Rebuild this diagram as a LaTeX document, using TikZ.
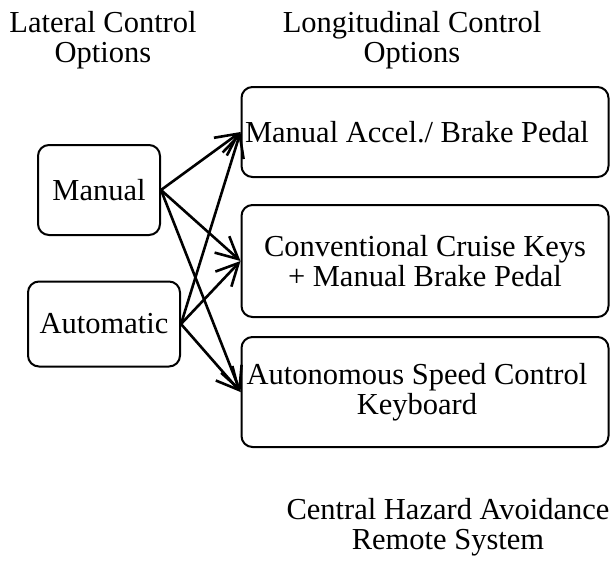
\documentclass[tikz,border=0pt]{standalone}
\usepackage{fontspec}
\setmainfont{Liberation Serif}
\usetikzlibrary{arrows.meta}
\begin{document}
\begin{tikzpicture}[x=1pt,y=-1pt,
  box/.style={draw, line width=2pt, rounded corners=11pt, inner sep=0pt, align=center},
  lbl/.style={align=center, inner sep=0pt},
  link/.style={line width=2.6pt, -{Straight Barb[length=22pt,width=22pt,line width=2.6pt]}},
  every node/.style={font=\fontsize{30.5}{30}\selectfont}]
\useasboundingbox (0,0) rectangle (614,568);
\node[lbl] (lat) at (103,40) {Lateral Control\\Options};
\node[lbl] (lon) at (412,40) {Longitudinal Control\\Options};
\node[box, minimum width=122pt, minimum height=90pt] (man) at (99,190) {Manual};
\node[box, minimum width=152pt, minimum height=85pt] (aut) at (104,324) {Automatic};
\node[box, minimum width=367pt, minimum height=90pt] (b1) at (425,132) {Manual Accel./ Brake Pedal\hspace*{16pt}};
\node[box, minimum width=367pt, minimum height=112pt] (b2) at (425,261) {Conventional Cruise Keys\\+ Manual Brake Pedal};
\node[box, minimum width=367pt, minimum height=110pt] (b3) at (425,392) {Autonomous Speed Control\hspace*{16pt}\\Keyboard\hspace*{16pt}};
\node[lbl] (cen) at (448,527) {Central Hazard Avoidance\\Remote System};
\foreach \t in {b1,b2,b3} {
  \draw[link] (man.east) -- (\t.west);
  \draw[link] (aut.east) -- (\t.west);
}
\end{tikzpicture}
\end{document}
